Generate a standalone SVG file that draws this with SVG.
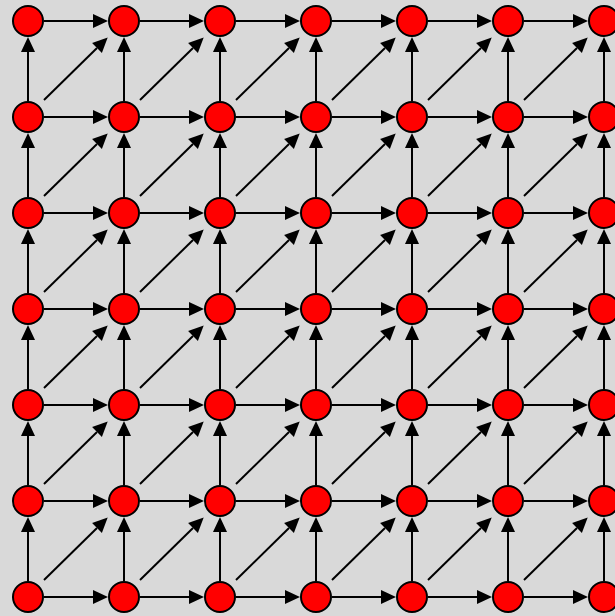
<svg xmlns="http://www.w3.org/2000/svg" width="615" height="616" viewBox="0 0 615 616">
<defs>
<style>
.e path{fill:none;stroke:#000;stroke-width:2;marker-end:url(#ah)}
.n circle{fill:#ff0000;stroke:#000;stroke-width:2}
</style>
<marker id="ah" markerUnits="userSpaceOnUse" markerWidth="16" markerHeight="14" refX="0" refY="7" orient="auto" overflow="visible"><path d="M0,0L15,7L0,14z" fill="#000"/></marker>
</defs>
<rect width="615" height="616" fill="#d9d9d9"/>
<g id="connectors" class="e">
<path d="M44,21h49"/><path d="M140,21h49"/><path d="M236,21h49"/><path d="M332,21h49"/><path d="M428,21h49"/><path d="M524,21h49"/>
<path d="M44,117h49"/><path d="M140,117h49"/><path d="M236,117h49"/><path d="M332,117h49"/><path d="M428,117h49"/><path d="M524,117h49"/>
<path d="M44,213h49"/><path d="M140,213h49"/><path d="M236,213h49"/><path d="M332,213h49"/><path d="M428,213h49"/><path d="M524,213h49"/>
<path d="M44,309h49"/><path d="M140,309h49"/><path d="M236,309h49"/><path d="M332,309h49"/><path d="M428,309h49"/><path d="M524,309h49"/>
<path d="M44,405h49"/><path d="M140,405h49"/><path d="M236,405h49"/><path d="M332,405h49"/><path d="M428,405h49"/><path d="M524,405h49"/>
<path d="M44,501h49"/><path d="M140,501h49"/><path d="M236,501h49"/><path d="M332,501h49"/><path d="M428,501h49"/><path d="M524,501h49"/>
<path d="M44,597h49"/><path d="M140,597h49"/><path d="M236,597h49"/><path d="M332,597h49"/><path d="M428,597h49"/><path d="M524,597h49"/>
<path d="M28,101v-49"/><path d="M28,197v-49"/><path d="M28,293v-49"/><path d="M28,389v-49"/><path d="M28,485v-49"/><path d="M28,581v-49"/>
<path d="M124,101v-49"/><path d="M124,197v-49"/><path d="M124,293v-49"/><path d="M124,389v-49"/><path d="M124,485v-49"/><path d="M124,581v-49"/>
<path d="M220,101v-49"/><path d="M220,197v-49"/><path d="M220,293v-49"/><path d="M220,389v-49"/><path d="M220,485v-49"/><path d="M220,581v-49"/>
<path d="M316,101v-49"/><path d="M316,197v-49"/><path d="M316,293v-49"/><path d="M316,389v-49"/><path d="M316,485v-49"/><path d="M316,581v-49"/>
<path d="M412,101v-49"/><path d="M412,197v-49"/><path d="M412,293v-49"/><path d="M412,389v-49"/><path d="M412,485v-49"/><path d="M412,581v-49"/>
<path d="M508,101v-49"/><path d="M508,197v-49"/><path d="M508,293v-49"/><path d="M508,389v-49"/><path d="M508,485v-49"/><path d="M508,581v-49"/>
<path d="M604,101v-49"/><path d="M604,197v-49"/><path d="M604,293v-49"/><path d="M604,389v-49"/><path d="M604,485v-49"/><path d="M604,581v-49"/>
<path d="M44,100l53,-52"/><path d="M140,100l53,-52"/><path d="M236,100l53,-52"/><path d="M332,100l53,-52"/><path d="M428,100l53,-52"/><path d="M524,100l53,-52"/>
<path d="M44,196l53,-52"/><path d="M140,196l53,-52"/><path d="M236,196l53,-52"/><path d="M332,196l53,-52"/><path d="M428,196l53,-52"/><path d="M524,196l53,-52"/>
<path d="M44,292l53,-52"/><path d="M140,292l53,-52"/><path d="M236,292l53,-52"/><path d="M332,292l53,-52"/><path d="M428,292l53,-52"/><path d="M524,292l53,-52"/>
<path d="M44,388l53,-52"/><path d="M140,388l53,-52"/><path d="M236,388l53,-52"/><path d="M332,388l53,-52"/><path d="M428,388l53,-52"/><path d="M524,388l53,-52"/>
<path d="M44,484l53,-52"/><path d="M140,484l53,-52"/><path d="M236,484l53,-52"/><path d="M332,484l53,-52"/><path d="M428,484l53,-52"/><path d="M524,484l53,-52"/>
<path d="M44,580l53,-52"/><path d="M140,580l53,-52"/><path d="M236,580l53,-52"/><path d="M332,580l53,-52"/><path d="M428,580l53,-52"/><path d="M524,580l53,-52"/>
</g>
<g class="n">
<g id="n0_0"><circle cx="28" cy="21" r="15"/></g><g id="n1_0"><circle cx="124" cy="21" r="15"/></g><g id="n2_0"><circle cx="220" cy="21" r="15"/></g><g id="n3_0"><circle cx="316" cy="21" r="15"/></g><g id="n4_0"><circle cx="412" cy="21" r="15"/></g><g id="n5_0"><circle cx="508" cy="21" r="15"/></g><g id="n6_0"><circle cx="604" cy="21" r="15"/></g>
<g id="n0_1"><circle cx="28" cy="117" r="15"/></g><g id="n1_1"><circle cx="124" cy="117" r="15"/></g><g id="n2_1"><circle cx="220" cy="117" r="15"/></g><g id="n3_1"><circle cx="316" cy="117" r="15"/></g><g id="n4_1"><circle cx="412" cy="117" r="15"/></g><g id="n5_1"><circle cx="508" cy="117" r="15"/></g><g id="n6_1"><circle cx="604" cy="117" r="15"/></g>
<g id="n0_2"><circle cx="28" cy="213" r="15"/></g><g id="n1_2"><circle cx="124" cy="213" r="15"/></g><g id="n2_2"><circle cx="220" cy="213" r="15"/></g><g id="n3_2"><circle cx="316" cy="213" r="15"/></g><g id="n4_2"><circle cx="412" cy="213" r="15"/></g><g id="n5_2"><circle cx="508" cy="213" r="15"/></g><g id="n6_2"><circle cx="604" cy="213" r="15"/></g>
<g id="n0_3"><circle cx="28" cy="309" r="15"/></g><g id="n1_3"><circle cx="124" cy="309" r="15"/></g><g id="n2_3"><circle cx="220" cy="309" r="15"/></g><g id="n3_3"><circle cx="316" cy="309" r="15"/></g><g id="n4_3"><circle cx="412" cy="309" r="15"/></g><g id="n5_3"><circle cx="508" cy="309" r="15"/></g><g id="n6_3"><circle cx="604" cy="309" r="15"/></g>
<g id="n0_4"><circle cx="28" cy="405" r="15"/></g><g id="n1_4"><circle cx="124" cy="405" r="15"/></g><g id="n2_4"><circle cx="220" cy="405" r="15"/></g><g id="n3_4"><circle cx="316" cy="405" r="15"/></g><g id="n4_4"><circle cx="412" cy="405" r="15"/></g><g id="n5_4"><circle cx="508" cy="405" r="15"/></g><g id="n6_4"><circle cx="604" cy="405" r="15"/></g>
<g id="n0_5"><circle cx="28" cy="501" r="15"/></g><g id="n1_5"><circle cx="124" cy="501" r="15"/></g><g id="n2_5"><circle cx="220" cy="501" r="15"/></g><g id="n3_5"><circle cx="316" cy="501" r="15"/></g><g id="n4_5"><circle cx="412" cy="501" r="15"/></g><g id="n5_5"><circle cx="508" cy="501" r="15"/></g><g id="n6_5"><circle cx="604" cy="501" r="15"/></g>
<g id="n0_6"><circle cx="28" cy="597" r="15"/></g><g id="n1_6"><circle cx="124" cy="597" r="15"/></g><g id="n2_6"><circle cx="220" cy="597" r="15"/></g><g id="n3_6"><circle cx="316" cy="597" r="15"/></g><g id="n4_6"><circle cx="412" cy="597" r="15"/></g><g id="n5_6"><circle cx="508" cy="597" r="15"/></g><g id="n6_6"><circle cx="604" cy="597" r="15"/></g>
</g>
</svg>
